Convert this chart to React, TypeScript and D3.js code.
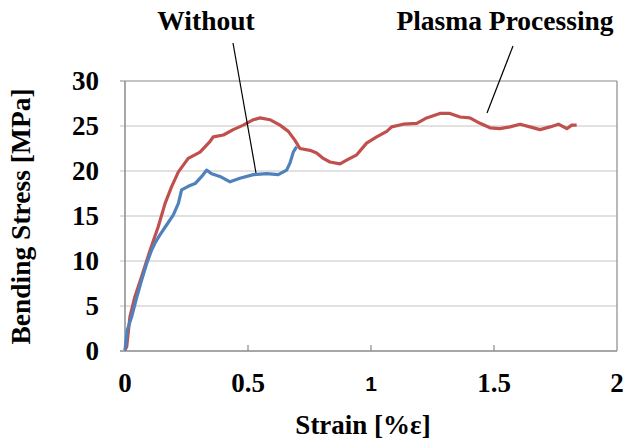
import React from "react";
import * as d3 from "d3";

const plasmaStrain = [0, 0.007, 0.02, 0.04, 0.068, 0.102, 0.135, 0.163, 0.19, 0.217, 0.257, 0.305, 0.346, 0.359, 0.4, 0.44, 0.481, 0.522, 0.549, 0.589, 0.63, 0.664, 0.691, 0.711, 0.752, 0.779, 0.806, 0.833, 0.874, 0.901, 0.942, 0.982, 1.023, 1.064, 1.084, 1.131, 1.186, 1.226, 1.28, 1.321, 1.362, 1.402, 1.443, 1.484, 1.524, 1.565, 1.606, 1.646, 1.687, 1.728, 1.762, 1.796, 1.816, 1.836];
const plasmaStress = [0.1, 0.5, 3.8, 6, 8.3, 11.2, 13.8, 16.4, 18.3, 19.9, 21.4, 22.1, 23.3, 23.8, 24, 24.6, 25.1, 25.7, 25.9, 25.7, 25.1, 24.4, 23.4, 22.5, 22.3, 22, 21.4, 21, 20.8, 21.2, 21.8, 23.1, 23.8, 24.4, 24.9, 25.2, 25.3, 25.9, 26.4, 26.4, 26, 25.9, 25.3, 24.8, 24.7, 24.9, 25.2, 24.9, 24.6, 24.9, 25.2, 24.7, 25.1, 25.1];

const withoutStrain = [0, 0.009, 0.027, 0.048, 0.068, 0.088, 0.108, 0.122, 0.142, 0.169, 0.196, 0.217, 0.23, 0.257, 0.285, 0.312, 0.332, 0.352, 0.386, 0.427, 0.467, 0.522, 0.576, 0.623, 0.657, 0.671, 0.684, 0.698];
const withoutStress = [0.1, 2.3, 3.8, 6, 7.9, 9.7, 11.2, 12, 12.9, 14, 15.1, 16.4, 17.9, 18.3, 18.6, 19.4, 20.1, 19.7, 19.4, 18.8, 19.2, 19.6, 19.7, 19.6, 20.1, 20.9, 22.1, 22.7];

const xTicks = [0, 0.5, 1, 1.5, 2];
const xTickLabels = ["0", "0.5", "1", "1.5", "2"];
const yTicks = [0, 5, 10, 15, 20, 25, 30];

export default function App() {
  const W = 626, H = 439;
  const x = d3.scaleLinear().domain([0, 2]).range([125, 617]);
  const y = d3.scaleLinear().domain([0, 30]).range([351, 81]);
  const line = d3.line<[number, number]>().x(d => x(d[0])).y(d => y(d[1]));
  const plasma = plasmaStrain.map((s, i) => [s, plasmaStress[i]] as [number, number]);
  const without = withoutStrain.map((s, i) => [s, withoutStress[i]] as [number, number]);
  const font = "'Liberation Serif', 'Times New Roman', serif";

  return (
    <div style={{ position: "fixed", left: 0, top: 0 }}>
      <svg width={W} height={H} style={{ display: "block", background: "#fff" }}>
        {yTicks.filter(t => t > 0).map(t => (
          <line key={"g" + t} x1={x(0) - 5} x2={x(2)} y1={y(t)} y2={y(t)} stroke={t === 30 ? "#8a8a8a" : "#c4c4c4"} strokeWidth={1.2} />
        ))}
        <line x1={x(2)} x2={x(2)} y1={y(30)} y2={y(0)} stroke="#8a8a8a" strokeWidth={1.2} />
        <line x1={x(0)} x2={x(0)} y1={y(30)} y2={y(0)} stroke="#8a8a8a" strokeWidth={1.5} />
        <line x1={x(0) - 5} x2={x(2)} y1={y(0)} y2={y(0)} stroke="#8a8a8a" strokeWidth={1.5} />
        {xTicks.slice(1, -1).map(t => (
          <line key={"xt" + t} x1={x(t)} x2={x(t)} y1={y(0)} y2={y(0) - 6} stroke="#8a8a8a" strokeWidth={1.2} />
        ))}
        <path d={line(plasma) || ""} fill="none" stroke="#c0504d" strokeWidth={3.2} strokeLinejoin="round" />
        <path d={line(without) || ""} fill="none" stroke="#4f81bd" strokeWidth={3.2} strokeLinejoin="round" />
        {yTicks.map(t => (
          <text key={"yl" + t} x={99} y={y(t)} dy="0.35em" textAnchor="end" fontFamily={font} fontWeight="bold" fontSize={27} fill="#000">{t}</text>
        ))}
        {xTicks.map((t, i) => (
          <text key={"xl" + t} x={x(t)} y={t === 1 ? 391 : 392} textAnchor="middle"
            fontFamily={t === 1 ? "'Liberation Sans', Arial, sans-serif" : font}
            fontWeight="bold" fontSize={t === 1 ? 21 : 27} fill="#000">{xTickLabels[i]}</text>
        ))}
        <text x={363} y={434} textAnchor="middle" fontFamily={font} fontWeight="bold" fontSize={27} fill="#000">Strain [%ε]</text>
        <text transform="translate(30,216.5) rotate(-90)" textAnchor="middle" fontFamily={font} fontWeight="bold" fontSize={27.5} fill="#000">Bending Stress [MPa]</text>
        <text x={206} y={30} textAnchor="middle" fontFamily={font} fontWeight="bold" fontSize={27.5} fill="#000">Without</text>
        <text x={505} y={30} textAnchor="middle" fontFamily={font} fontWeight="bold" fontSize={27.5} fill="#000">Plasma Processing</text>
        <line x1={233} y1={43} x2={256} y2={173} stroke="#000" strokeWidth={1.2} />
        <line x1={513} y1={46} x2={487} y2={113} stroke="#000" strokeWidth={1.2} />
      </svg>
    </div>
  );
}
